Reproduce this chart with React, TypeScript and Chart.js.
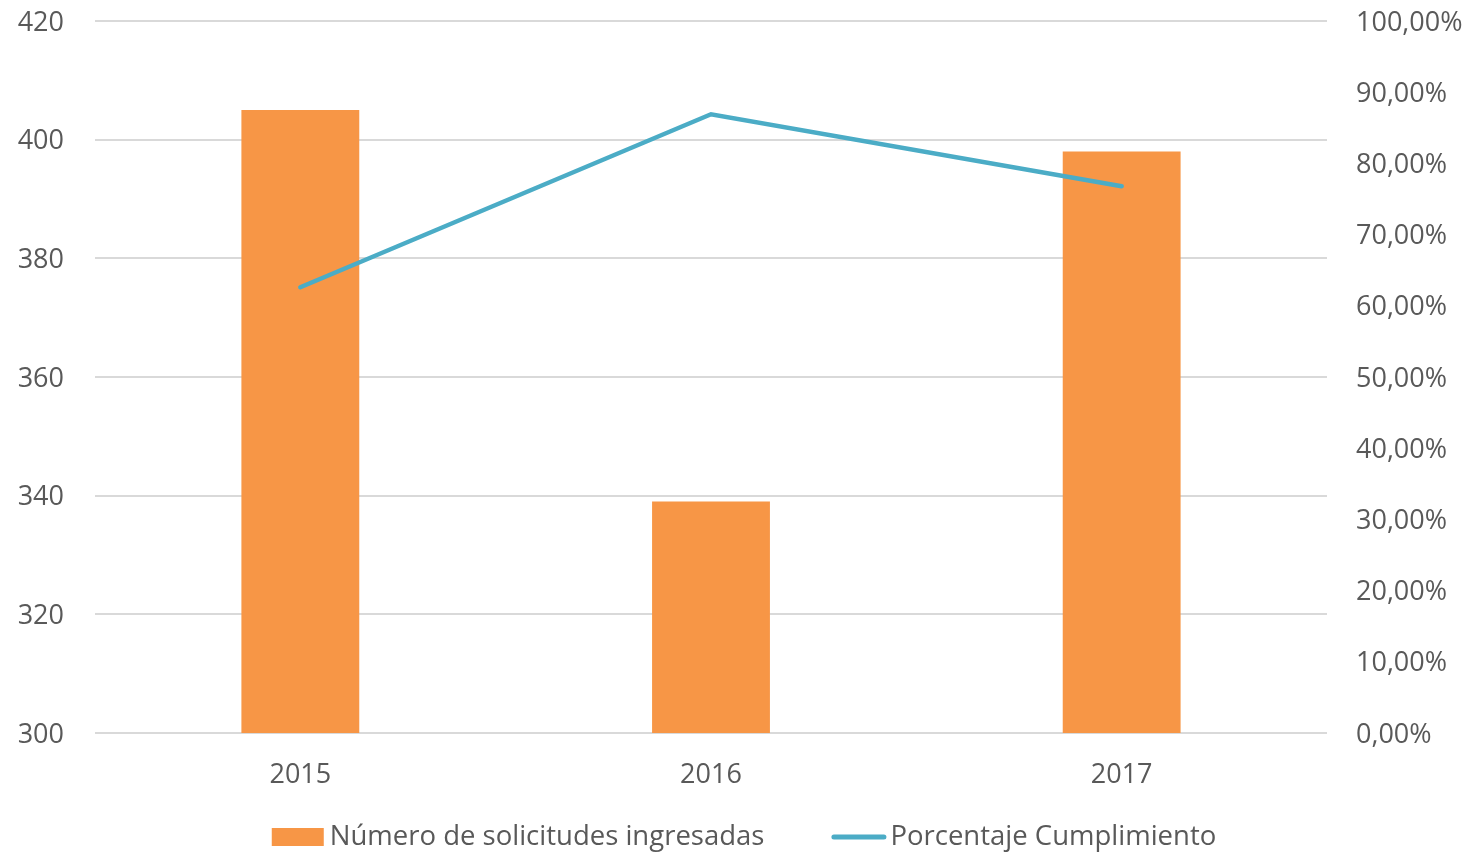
import React, { useEffect, useRef } from "react";
import { Chart, registerables } from "chart.js";

Chart.register(...registerables);

const categories = ["2015", "2016", "2017"];
const solicitudes = [405, 339, 398];
const cumplimiento = [62.6, 86.9, 76.8];
const leftTicks = { min: 300, max: 420, step: 20 };
const rightTicks = { min: 0, max: 100, step: 10 };

const FONT = "'Open Sans', 'Noto Sans', sans-serif";
const TEXT = "#595959";
const GRID = "#d9d9d9";
const BAR_COLOR = "#F79646";
const LINE_COLOR = "#4BACC6";

const bottomLegend = {
  id: "bottomLegend",
  afterDraw(chart: any) {
    const ctx = chart.ctx;
    const ds = chart.data.datasets;
    ctx.save();
    ctx.font = `27.5px ${FONT}`;
    ctx.textBaseline = "middle";
    ctx.textAlign = "left";
    const t1 = ds[0].label as string;
    const t2 = ds[1].label as string;
    const w1 = ctx.measureText(t1).width;
    const w2 = ctx.measureText(t2).width;
    const box = 52, gapBox = 6, gapItems = 67, lineW = 55, gapLine = 4;
    const total = box + gapBox + w1 + gapItems + lineW + gapLine + w2;
    let x = (chart.width - total) / 2 + 5;
    const cy = 837;
    ctx.fillStyle = BAR_COLOR;
    ctx.fillRect(x, cy - 9, box, 18);
    x += box + gapBox;
    ctx.fillStyle = TEXT;
    ctx.fillText(t1, x, cy);
    x += w1 + gapItems;
    ctx.strokeStyle = LINE_COLOR;
    ctx.lineWidth = 5;
    ctx.lineCap = "round";
    ctx.beginPath();
    ctx.moveTo(x + 2.5, cy);
    ctx.lineTo(x + lineW - 2.5, cy);
    ctx.stroke();
    x += lineW + gapLine;
    ctx.fillText(t2, x, cy);
    ctx.restore();
  },
};

export default function App() {
  const ref = useRef<HTMLCanvasElement | null>(null);

  useEffect(() => {
    document.body.style.margin = "0";
    const ctx = ref.current;
    if (!ctx) return;
    const chart = new Chart(ctx, {
      data: {
        labels: categories,
        datasets: [
          {
            type: "bar",
            label: "Número de solicitudes ingresadas",
            data: solicitudes,
            backgroundColor: BAR_COLOR,
            borderWidth: 0,
            yAxisID: "y",
            categoryPercentage: 1,
            barPercentage: 0.287,
            order: 2,
          } as any,
          {
            type: "line",
            label: "Porcentaje Cumplimiento",
            data: cumplimiento,
            borderColor: LINE_COLOR,
            backgroundColor: LINE_COLOR,
            borderWidth: 4.5,
            borderCapStyle: "round",
            pointRadius: 0,
            pointHoverRadius: 0,
            yAxisID: "y1",
            tension: 0,
            order: 1,
          } as any,
        ],
      },
      options: {
        animation: false,
        responsive: false,
        maintainAspectRatio: false,
        layout: { padding: { left: 0, right: 0, top: 21, bottom: 0 } },
        plugins: {
          tooltip: { enabled: false },
          legend: { display: false },
        },
        scales: {
          x: {
            grid: { display: false },
            border: { display: false },
            ticks: { color: TEXT, font: { family: FONT, size: 27 }, padding: 18 },
            afterFit: (s: any) => {
              s.height = 121;
            },
          },
          y: {
            position: "left",
            min: leftTicks.min,
            max: leftTicks.max,
            ticks: {
              stepSize: leftTicks.step,
              color: TEXT,
              font: { family: FONT, size: 27 },
              padding: 31,
              labelOffset: 2,
            },
            grid: { color: GRID, lineWidth: 2, drawTicks: false },
            border: { display: false },
            afterFit: (s: any) => {
              s.width = 95;
              s.paddingTop = 0;
              s.paddingBottom = 0;
            },
          },
          y1: {
            position: "right",
            min: rightTicks.min,
            max: rightTicks.max,
            ticks: {
              stepSize: rightTicks.step,
              color: TEXT,
              font: { family: FONT, size: 27 },
              padding: 29,
              labelOffset: 2,
              callback: (v: any) => Number(v).toFixed(2).replace(".", ",") + "%",
            },
            grid: { display: false, drawTicks: false },
            border: { display: false },
            afterFit: (s: any) => {
              s.width = 151;
              s.paddingTop = 0;
              s.paddingBottom = 0;
            },
          },
        },
      } as any,
      plugins: [bottomLegend],
    });
    return () => chart.destroy();
  }, []);

  return (
    <div style={{ width: 1478, height: 854 }}>
      <canvas ref={ref} width={1478} height={854} style={{ display: "block" }} />
    </div>
  );
}
